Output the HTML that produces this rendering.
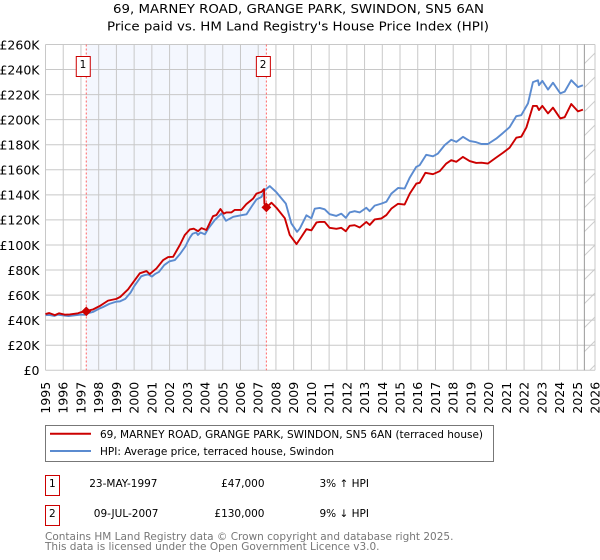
<!DOCTYPE html>
<html>
<head>
<meta charset="utf-8">
<title>69, Marney Road price chart</title>
<style>
html,body{margin:0;padding:0;background:#fff;width:600px;height:560px;overflow:hidden}
svg{display:block}
text{font-family:"DejaVu Sans","Liberation Sans",sans-serif;fill:#000}
</style>
</head>
<body>
<svg id="chart" xmlns="http://www.w3.org/2000/svg" width="600" height="560" viewBox="0 0 600 560">
  <defs>
    <pattern id="hatch" patternUnits="userSpaceOnUse" width="24" height="24">
      <path d="M0 24L24 0" stroke="#cccccc" stroke-width="1" fill="none"/>
    </pattern>
  </defs>
  <text x="113" y="13" font-size="12" textLength="371" lengthAdjust="spacingAndGlyphs">69, MARNEY ROAD, GRANGE PARK, SWINDON, SN5 6AN</text>
  <text x="107" y="30.5" font-size="12" textLength="382" lengthAdjust="spacingAndGlyphs">Price paid vs. HM Land Registry's House Price Index (HPI)</text>
  <g id="plot"></g>
  <g>
    <rect x="45.5" y="425.5" width="448" height="36" fill="#fff" stroke="#777" stroke-width="1"/>
    <line x1="50" x2="91" y1="433.7" y2="433.7" stroke="#cc0000" stroke-width="2"/>
    <text x="100" y="438" font-size="10.5">69, MARNEY ROAD, GRANGE PARK, SWINDON, SN5 6AN (terraced house)</text>
    <line x1="50" x2="91" y1="451" y2="451" stroke="#5b8bd0" stroke-width="2"/>
    <text x="100" y="455" font-size="10.5">HPI: Average price, terraced house, Swindon</text>
  </g>
  <g>
    <rect x="45.5" y="475.5" width="14" height="20" fill="#fff" stroke="#cc0000" stroke-width="1"/>
    <text x="52.3" y="487" font-size="10.5" text-anchor="middle">1</text>
    <text x="157.5" y="487" font-size="10.5" text-anchor="end">23-MAY-1997</text>
    <text x="264.5" y="487" font-size="10.5" text-anchor="end">£47,000</text>
    <text x="319.5" y="487" font-size="10.5">3% ↑ HPI</text>
  </g>
  <g>
    <rect x="45.5" y="505.5" width="14" height="20" fill="#fff" stroke="#cc0000" stroke-width="1"/>
    <text x="52.3" y="517" font-size="10.5" text-anchor="middle">2</text>
    <text x="158.5" y="517" font-size="10.5" text-anchor="end">09-JUL-2007</text>
    <text x="264.5" y="517" font-size="10.5" text-anchor="end">£130,000</text>
    <text x="319.5" y="517" font-size="10.5">9% ↓ HPI</text>
  </g>
  <text x="45" y="540" font-size="10.5" style="fill:#777">Contains HM Land Registry data © Crown copyright and database right 2025.</text>
  <text x="45" y="550" font-size="10.5" style="fill:#777">This data is licensed under the Open Government Licence v3.0.</text>
</svg>
<script>
const yearTicks = [1995,1996,1997,1998,1999,2000,2001,2002,2003,2004,2005,2006,2007,2008,2009,2010,2011,2012,2013,2014,2015,2016,2017,2018,2019,2020,2021,2022,2023,2024,2025,2026];
const valueTicks = [0,20,40,60,80,100,120,140,160,180,200,220,240,260];
const hpiYears = [1995,1995.2,1995.5,1995.7,1996,1996.3,1996.6,1997,1997.2,1997.4,1997.7,1998,1998.25,1998.6,1999,1999.2,1999.5,1999.8,2000,2000.2,2000.4,2000.6,2000.8,2001,2001.2,2001.4,2001.7,2002,2002.3,2002.6,2002.9,2003,2003.15,2003.3,2003.5,2003.6,2003.75,2004,2004.18,2004.55,2004.93,2005.18,2005.59,2006.06,2006.34,2006.62,2006.9,2007.19,2007.37,2007.65,2008.03,2008.56,2008.87,2009.19,2009.35,2009.72,2010,2010.19,2010.47,2010.75,2011.03,2011.41,2011.69,2011.94,2012.16,2012.44,2012.73,2013.1,2013.29,2013.57,2013.95,2014.23,2014.51,2014.89,2015.26,2015.55,2015.92,2016.11,2016.48,2016.86,2017.14,2017.52,2017.89,2018.18,2018.55,2018.93,2019.3,2019.59,2019.96,2020.43,2020.81,2021.18,2021.56,2021.84,2022.22,2022.5,2022.78,2022.84,2023.03,2023.35,2023.63,2024.04,2024.29,2024.66,2025.04,2025.32];
const hpiValues = [44,44.2,43.4,44.4,43.8,43.3,43.8,44.5,44.3,45.6,46.7,49,50.5,53,54.8,55,57,62,67,71,75,76,76.5,74.8,77,78.5,84,87,88,93,99,102,106,109,110,108,110,108.5,113,119.9,125.2,119.3,122.5,123.8,124.5,130.5,136.3,138.4,143.8,147,142,133,117.2,110.5,113.2,123.7,121.3,129,129.6,128.5,124.6,123.2,125,121.7,126,127,126,129.7,127,131.4,133,134.5,141,145.5,145,153.8,162.4,163.7,172,170.8,173,179.7,184,182.3,186.3,183,182,180.6,180.6,184.9,189.4,194,202.8,203.6,213,230,231.5,227.5,231,224,229.5,221,222.4,231.5,226,227.5];
const paidYears = [1995,1995.2,1995.53,1995.77,1996.09,1996.37,1996.84,1996.97,1997.29,1997.69,1998.06,1998.53,1999,1999.23,1999.66,2000.04,2000.32,2000.7,2000.88,2001.26,2001.64,2001.92,2002.2,2002.58,2002.86,2003.14,2003.36,2003.61,2003.8,2004.08,2004.45,2004.64,2004.87,2005.06,2005.21,2005.49,2005.68,2006.05,2006.33,2006.71,2006.9,2007.19,2007.33,2007.35,2007.46,2007.75,2008.03,2008.5,2008.78,2009.16,2009.44,2009.72,2010,2010.29,2010.47,2010.75,2011.03,2011.41,2011.69,2011.94,2012.16,2012.44,2012.73,2013.1,2013.29,2013.57,2013.95,2014.23,2014.51,2014.89,2015.26,2015.55,2015.92,2016.11,2016.43,2016.86,2017.24,2017.61,2017.89,2018.18,2018.55,2018.93,2019.3,2019.59,2019.96,2020.43,2020.81,2021.18,2021.56,2021.84,2022.13,2022.5,2022.72,2022.84,2023.03,2023.35,2023.63,2024.04,2024.29,2024.66,2025.04,2025.32];
const paidValues = [44.9,45.7,44,45.5,44.4,44.6,45.5,46.2,47.3,48.6,51.3,55.6,57,58.7,64.6,72,77.4,79.2,76.8,81.3,88,90.4,90.6,100,108,112.4,113,111,113.5,112,123,123.9,128.7,125,126,126,128,128,132.6,137,141,142.4,144.6,133,130,133.7,129.7,121.4,108,100.7,106.6,112.6,111.7,118,118.4,118.4,113.7,112.9,113.7,111,115.3,115.8,114,118.4,116,120.4,121.2,123.9,129,132.9,132.3,141,149,149.6,157.6,156.5,158.9,165,167.7,166.4,170.3,167,165.5,165.7,165,169.8,173.6,177.6,185.6,186.4,193.8,211,211,207.7,211,205,209.6,201,202,212.5,206.6,208];
const saleYears = [1997.3,2007.46];
const saleValues = [47,130];
const saleLabels = ['1','2'];
const forecastStartYear = 2025.4;

const NS = 'http://www.w3.org/2000/svg';
const plot = document.getElementById('plot');
const L = 45.5, R = 595, T = 44.5, B = 370.3;
function xScale(year){ return L + (year - 1995) * (R - L) / 31; }
function yScale(k){ return B - k * (B - T) / 260; }
function make(tag, attrs, parent){
  const el = document.createElementNS(NS, tag);
  for (const k in attrs) el.setAttribute(k, attrs[k]);
  (parent || plot).appendChild(el);
  return el;
}
function pathOf(xs, ys){
  return xs.map(function(x,i){ return (i ? 'L' : 'M') + xScale(x).toFixed(2) + ' ' + yScale(ys[i]).toFixed(2); }).join('');
}

const shade = make('rect', {x:xScale(saleYears[0]), y:T, width:xScale(saleYears[1])-xScale(saleYears[0]), height:B-T, fill:'#f4f7fe'});



const hatch = make('rect', {x:xScale(forecastStartYear), y:T, width:R-xScale(forecastStartYear), height:B-T, fill:'url(#hatch)'});



valueTicks.forEach(function(v){
  const g = make('line', {x1:L, x2:R, y1:yScale(v), y2:yScale(v), stroke:'#c8c8c8', 'stroke-width':1});
  
  
  const t = make('text', {x:39.5, y:yScale(v)+4.8, 'font-size':12.5, 'text-anchor':'end'});
  t.textContent = '£' + v + (v ? 'K' : '');
  
  
});
yearTicks.forEach(function(y){
  const px = xScale(y);
  const g = make('line', {x1:px, x2:px, y1:T, y2:B, stroke:'#c8c8c8', 'stroke-width':1});
  
  
  const t = make('text', {transform:'translate(' + (px+4.5) + ',' + (B+11.5) + ') rotate(-90)', 'font-size':12.5, 'text-anchor':'end'});
  t.textContent = String(y);
  
  
});

const edge = make('line', {x1:xScale(forecastStartYear), x2:xScale(forecastStartYear), y1:T, y2:B, stroke:'#999', 'stroke-width':1});



saleYears.forEach(function(y){
  const d = make('line', {x1:xScale(y), x2:xScale(y), y1:T, y2:B, stroke:'#ff6666', 'stroke-width':1, 'stroke-dasharray':'2 2'});
  
  
});

const hpiLine = make('path', {d:pathOf(hpiYears, hpiValues), fill:'none', stroke:'#5b8bd0', 'stroke-width':1.9, 'stroke-linejoin':'round'});



const paidLine = make('path', {d:pathOf(paidYears, paidValues), fill:'none', stroke:'#cc0000', 'stroke-width':1.9, 'stroke-linejoin':'round'});



saleYears.forEach(function(y, i){
  const cx = xScale(y), cy = yScale(saleValues[i]), r = 4.2;
  const m = make('path', {d:'M'+(cx-r)+' '+cy+'L'+cx+' '+(cy-r)+'L'+(cx+r)+' '+cy+'L'+cx+' '+(cy+r)+'Z', fill:'#cc0000', stroke:'#cc0000', 'stroke-width':1});
  
  
  const b = make('rect', {x:cx-10, y:56.5, width:14, height:20, fill:'#fff', stroke:'#cc0000', 'stroke-width':1});
  
  
  const t = make('text', {x:cx-3.3, y:68, 'font-size':10.5, 'text-anchor':'middle'});
  t.textContent = saleLabels[i];
  
  
});
</script>
</body>
</html>
